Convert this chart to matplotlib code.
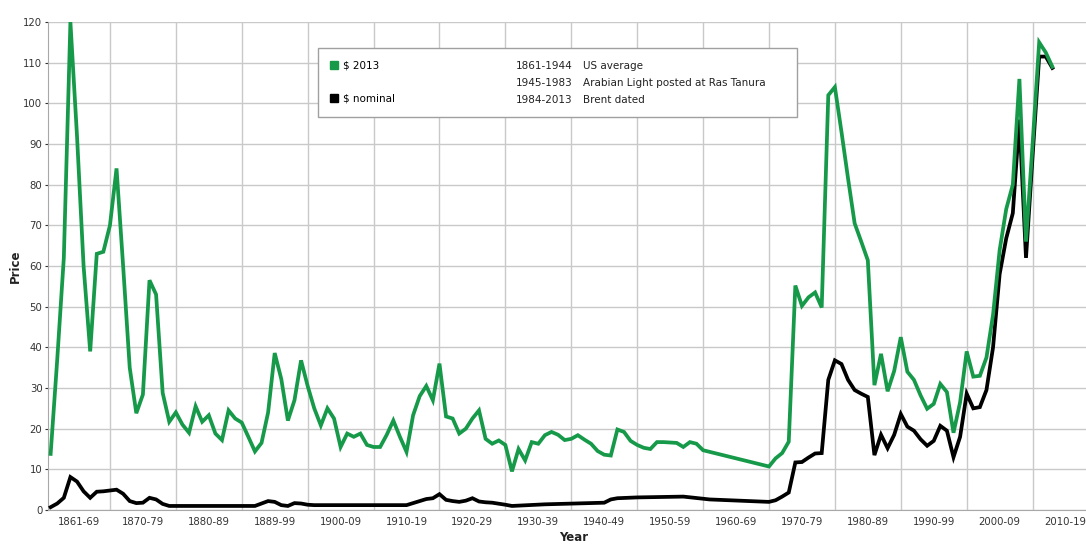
import numpy as np
import matplotlib.pyplot as plt
from matplotlib.lines import Line2D
from matplotlib.patches import Rectangle

# $ 2013 (real) prices
anios_real = [1861, 1862, 1863, 1864, 1865, 1866, 1867, 1868, 1869, 1870,
              1871, 1872, 1873, 1874, 1875, 1876, 1877, 1878, 1879, 1880,
              1881, 1882, 1883, 1884, 1885, 1886, 1887, 1888, 1889, 1890,
              1891, 1892, 1893, 1894, 1895, 1896, 1897, 1898, 1899, 1900,
              1901, 1902, 1903, 1904, 1905, 1906, 1907, 1908, 1909, 1910,
              1911, 1912, 1913, 1914, 1915, 1916, 1917, 1918, 1919, 1920,
              1921, 1922, 1923, 1924, 1925, 1926, 1927, 1928, 1929, 1930,
              1931, 1932, 1933, 1934, 1935, 1936, 1937, 1938, 1939, 1940,
              1941, 1942, 1943, 1944, 1945, 1946, 1947, 1948, 1949, 1950,
              1951, 1952, 1953, 1954, 1955, 1956, 1957, 1958, 1959, 1960,
              1970, 1971, 1972, 1973, 1974, 1975, 1976, 1977, 1978, 1979,
              1980, 1981, 1982, 1983, 1984, 1985, 1986, 1987, 1988, 1989,
              1990, 1991, 1992, 1993, 1994, 1995, 1996, 1997, 1998, 1999,
              2000, 2001, 2002, 2003, 2004, 2005, 2006, 2007, 2008, 2009,
              2010, 2011, 2012, 2013]
precio_real = [13.8, 37, 62, 120, 92, 60, 39, 63, 63.5, 70,
               84, 60, 35, 23.8, 28.4, 56.5, 53, 28.8, 21.7, 24,
               21, 19, 25.5, 21.7, 23.3, 18.8, 17.2, 24.5, 22.5, 21.5,
               18, 14.4, 16.5, 24, 38.6, 32.2, 22, 27, 36.8, 30.5,
               25, 20.8, 25, 22.5, 15.5, 18.8, 18, 18.8, 16, 15.5,
               15.5, 18.5, 22, 18, 14.3, 23.3, 28, 30.5, 27, 36,
               23, 22.5, 18.8, 20, 22.5, 24.5, 17.5, 16.3, 17.1, 16,
               9.5, 15, 12.2, 16.7, 16.3, 18.4, 19.2, 18.5, 17.2, 17.5,
               18.4, 17.3, 16.3, 14.5, 13.6, 13.4, 19.8, 19.2, 17, 16,
               15.3, 15, 16.7, 16.7, 16.6, 16.5, 15.5, 16.7, 16.3, 14.7,
               10.7, 12.7, 14, 16.8, 55.2, 50.2, 52.3, 53.5, 49.8, 102,
               104, 93, 81.5, 70.5, 66, 61.4, 30.7, 38.4, 29.2, 34.2,
               42.5, 34, 32, 28.2, 24.9, 26.1, 31, 29, 19, 26.5,
               39, 32.8, 33, 37.5, 48, 63.9, 74, 80, 106, 66,
               90, 115, 112.5, 109]

# $ nominal prices
anios_nom = [1861, 1862, 1863, 1864, 1865, 1866, 1867, 1868, 1869, 1870,
             1871, 1872, 1873, 1874, 1875, 1876, 1877, 1878, 1879, 1892,
             1894, 1895, 1896, 1897, 1898, 1899, 1900, 1901, 1915, 1917,
             1918, 1919, 1920, 1921, 1922, 1923, 1924, 1925, 1926, 1927,
             1928, 1930, 1931, 1936, 1945, 1946, 1947, 1950, 1957, 1961,
             1970, 1971, 1972, 1973, 1974, 1975, 1976, 1977, 1978, 1979,
             1980, 1981, 1982, 1983, 1984, 1985, 1986, 1987, 1988, 1989,
             1990, 1991, 1992, 1993, 1994, 1995, 1996, 1997, 1998, 1999,
             2000, 2001, 2002, 2003, 2004, 2005, 2006, 2007, 2008, 2009,
             2010, 2011, 2012, 2013]
precio_nom = [0.7, 1.6, 3, 8.1, 7, 4.6, 3, 4.5, 4.6, 4.8,
              5, 4, 2.2, 1.7, 1.8, 3, 2.6, 1.5, 1.0, 1.0,
              2.2, 2.0, 1.2, 1.0, 1.7, 1.6, 1.3, 1.2, 1.2, 2.2,
              2.7, 2.9, 3.9, 2.5, 2.2, 2.0, 2.3, 2.9, 2.1, 1.9,
              1.8, 1.3, 1.0, 1.4, 1.8, 2.6, 2.9, 3.1, 3.3, 2.6,
              2.0, 2.4, 3.3, 4.3, 11.7, 11.8, 12.9, 13.9, 14.0, 32,
              36.8, 35.9, 32, 29.5, 28.6, 27.8, 13.5, 18.5, 15.2, 18.5,
              23.6, 20.5, 19.5, 17.4, 15.8, 17, 20.7, 19.5, 13, 18,
              28.6, 25, 25.3, 29.5, 40, 58, 66.8, 73, 96, 62,
              87, 111.5, 111.5, 108.7]

decadas = ['1861-69', '1870-79', '1880-89', '1889-99', '1900-09', '1910-19',
           '1920-29', '1930-39', '1940-49', '1950-59', '1960-69', '1970-79',
           '1980-89', '1990-99', '2000-09', '2010-19']

verde = '#169a4a'
gris = '#c9c9c9'

fig = plt.figure(figsize=(10.86, 5.46), dpi=100)
ax = fig.add_axes([0.0442, 0.0659, 0.9673, 0.8938])

ax.plot(anios_nom, precio_nom, color='black', lw=2.7, zorder=4, solid_joinstyle='miter')
ax.plot(anios_real, precio_real, color=verde, lw=2.7, zorder=5, solid_joinstyle='miter')

ax.set_xlim(1860.6, 2020)
ax.set_ylim(0, 120)
ax.set_yticks(np.arange(0, 121, 10))
ax.set_xticks(np.arange(1870, 2021, 10))
ax.set_xticklabels([])
ax.set_xticks([1865.3] + list(np.arange(1875, 2016, 10)), minor=True)
ax.set_xticklabels(decadas, minor=True)
ax.tick_params(axis='x', which='both', length=0, pad=5, labelsize=7.3, colors='#333333')
ax.tick_params(axis='y', length=2, pad=2, labelsize=7.3, colors='#333333')
ax.grid(True, which='major', color=gris, lw=1, zorder=0)

for lado in ['top', 'right']:
    ax.spines[lado].set_visible(False)
for lado in ['left', 'bottom']:
    ax.spines[lado].set_color('#a8a8a8')

ax.set_ylabel('Price', fontsize=8.5, fontweight='bold', color='#222222', labelpad=1)
ax.set_xlabel('Year', fontsize=8.5, fontweight='bold', color='#222222', labelpad=3)

# legend box
ax.add_patch(Rectangle((0.257, 0.805), 0.456, 0.142, transform=ax.transAxes,
                       facecolor='white', edgecolor='#a0a0a0', lw=1, zorder=6))
marcas = [Line2D([], [], color=verde, marker='s', ls='none', markersize=6),
          Line2D([], [], color='black', marker='s', ls='none', markersize=6)]
leg = ax.legend(marcas, [r'\$ 2013', r'\$ nominal'], loc='upper left',
                bbox_to_anchor=(0.268, 0.921), frameon=False, fontsize=7.5,
                labelspacing=2.25, handlelength=0.8, handletextpad=0.5,
                borderpad=0, borderaxespad=0)
leg.set_zorder(7)

filas = [('1861-1944', 'US average'),
         ('1945-1983', 'Arabian Light posted at Ras Tanura'),
         ('1984-2013', 'Brent dated')]
for i, (periodo, fuente) in enumerate(filas):
    y = 0.910 - i * 0.035
    ax.text(0.4455, y, periodo, transform=ax.transAxes, fontsize=7.5,
            va='center', color='#222222', zorder=7)
    ax.text(0.509, y, fuente, transform=ax.transAxes, fontsize=7.5,
            va='center', color='#222222', zorder=7)

fig.savefig('out.png', dpi=100)
